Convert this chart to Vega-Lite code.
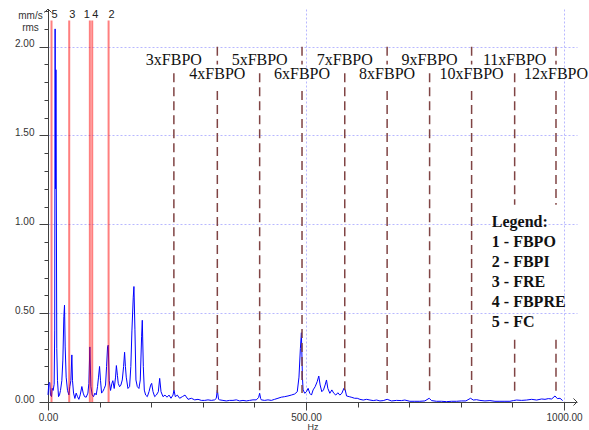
{
  "$schema": "https://vega.github.io/schema/vega-lite/v6.json",
  "width": 529,
  "height": 393,
  "autosize": {"type": "none"},
  "padding": {"left": 48, "top": 9, "right": 12, "bottom": 28},
  "background": "white",
  "config": {
    "view": {"stroke": null},
    "axis": {
      "domainColor": "#404040",
      "tickColor": "#404040",
      "labelColor": "#333333",
      "labelFont": "Liberation Sans",
      "labelFontSize": 10,
      "titleFont": "Liberation Sans",
      "titleFontSize": 10,
      "titleFontWeight": "normal",
      "titleColor": "#333333"
    }
  },
  "datasets": {
    "spectrum": [
      {"hz": 0, "amp": 0.04}, {"hz": 1.6, "amp": 0.105}, {"hz": 3.5, "amp": 0.11}, {"hz": 4.8, "amp": 0.04},
      {"hz": 6.8, "amp": 0.03}, {"hz": 8.1, "amp": 0.077}, {"hz": 10, "amp": 0.065}, {"hz": 11.9, "amp": 0.1},
      {"hz": 13, "amp": 0.4}, {"hz": 13.8, "amp": 2.1}, {"hz": 14.6, "amp": 1.2}, {"hz": 15.4, "amp": 1.87},
      {"hz": 17, "amp": 0.3}, {"hz": 18.4, "amp": 0.12}, {"hz": 20.4, "amp": 0.03}, {"hz": 22.3, "amp": 0.04},
      {"hz": 24.2, "amp": 0.065}, {"hz": 26.8, "amp": 0.12}, {"hz": 28.8, "amp": 0.236}, {"hz": 30.7, "amp": 0.48},
      {"hz": 32, "amp": 0.545}, {"hz": 33.3, "amp": 0.31}, {"hz": 35.2, "amp": 0.14}, {"hz": 37.8, "amp": 0.065},
      {"hz": 40.4, "amp": 0.04}, {"hz": 42.3, "amp": 0.087}, {"hz": 44.3, "amp": 0.12}, {"hz": 46.2, "amp": 0.265},
      {"hz": 47.5, "amp": 0.12}, {"hz": 49.5, "amp": 0.05}, {"hz": 52.1, "amp": 0.02}, {"hz": 54.6, "amp": 0.05},
      {"hz": 57.2, "amp": 0.03}, {"hz": 59.8, "amp": 0.015}, {"hz": 62.4, "amp": 0.04}, {"hz": 65.6, "amp": 0.087},
      {"hz": 68.2, "amp": 0.05}, {"hz": 70.8, "amp": 0.03}, {"hz": 74, "amp": 0.027}, {"hz": 77.3, "amp": 0.05},
      {"hz": 79.2, "amp": 0.105}, {"hz": 81.1, "amp": 0.31}, {"hz": 83.1, "amp": 0.087}, {"hz": 85.7, "amp": 0.04},
      {"hz": 88.2, "amp": 0.03}, {"hz": 90.8, "amp": 0.05}, {"hz": 93.4, "amp": 0.04}, {"hz": 96, "amp": 0.087},
      {"hz": 97.9, "amp": 0.14}, {"hz": 99.9, "amp": 0.2}, {"hz": 101.8, "amp": 0.12}, {"hz": 103.8, "amp": 0.05},
      {"hz": 106.3, "amp": 0.06}, {"hz": 109, "amp": 0.076}, {"hz": 111.5, "amp": 0.095}, {"hz": 113.5, "amp": 0.199},
      {"hz": 115.4, "amp": 0.31}, {"hz": 116.7, "amp": 0.32}, {"hz": 118.6, "amp": 0.12}, {"hz": 121.2, "amp": 0.065},
      {"hz": 123.8, "amp": 0.105}, {"hz": 125.7, "amp": 0.12}, {"hz": 128.3, "amp": 0.076}, {"hz": 130.9, "amp": 0.14},
      {"hz": 132.5, "amp": 0.205}, {"hz": 134.5, "amp": 0.15}, {"hz": 136.1, "amp": 0.105}, {"hz": 138.7, "amp": 0.086},
      {"hz": 141.2, "amp": 0.095}, {"hz": 143.9, "amp": 0.124}, {"hz": 146.5, "amp": 0.2}, {"hz": 148.4, "amp": 0.28},
      {"hz": 150, "amp": 0.2}, {"hz": 151.6, "amp": 0.14}, {"hz": 154.9, "amp": 0.076}, {"hz": 158.1, "amp": 0.087},
      {"hz": 160.5, "amp": 0.2}, {"hz": 162.6, "amp": 0.4}, {"hz": 165.2, "amp": 0.59}, {"hz": 166.5, "amp": 0.65},
      {"hz": 168.4, "amp": 0.41}, {"hz": 170.4, "amp": 0.124}, {"hz": 173, "amp": 0.087}, {"hz": 176.2, "amp": 0.076},
      {"hz": 178.8, "amp": 0.124}, {"hz": 181.4, "amp": 0.37}, {"hz": 182.7, "amp": 0.46}, {"hz": 184.7, "amp": 0.199},
      {"hz": 186.6, "amp": 0.067}, {"hz": 189.2, "amp": 0.039}, {"hz": 192.4, "amp": 0.03}, {"hz": 195.7, "amp": 0.058},
      {"hz": 198.9, "amp": 0.095}, {"hz": 200.9, "amp": 0.105}, {"hz": 203.5, "amp": 0.058}, {"hz": 206.7, "amp": 0.03},
      {"hz": 209.9, "amp": 0.039}, {"hz": 213.8, "amp": 0.058}, {"hz": 216.4, "amp": 0.133}, {"hz": 219, "amp": 0.058},
      {"hz": 222.8, "amp": 0.03}, {"hz": 226.7, "amp": 0.039}, {"hz": 230.6, "amp": 0.027}, {"hz": 234.5, "amp": 0.039},
      {"hz": 238.3, "amp": 0.021}, {"hz": 242.2, "amp": 0.039}, {"hz": 244.1, "amp": 0.067}, {"hz": 246.7, "amp": 0.03},
      {"hz": 250.6, "amp": 0.039}, {"hz": 255.1, "amp": 0.021}, {"hz": 260.3, "amp": 0.03}, {"hz": 265.5, "amp": 0.039},
      {"hz": 271.3, "amp": 0.015}, {"hz": 277.8, "amp": 0.021}, {"hz": 284.2, "amp": 0.012}, {"hz": 290.7, "amp": 0.015},
      {"hz": 297.2, "amp": 0.009}, {"hz": 303.6, "amp": 0.009}, {"hz": 310, "amp": 0.012}, {"hz": 316.5, "amp": 0.009},
      {"hz": 323, "amp": 0.012}, {"hz": 326, "amp": 0.02}, {"hz": 328.1, "amp": 0.067}, {"hz": 330.5, "amp": 0.015},
      {"hz": 332.6, "amp": 0.012}, {"hz": 339, "amp": 0.009}, {"hz": 345.5, "amp": 0.006}, {"hz": 352, "amp": 0.009},
      {"hz": 358.4, "amp": 0.009}, {"hz": 364.9, "amp": 0.012}, {"hz": 371.3, "amp": 0.006}, {"hz": 377.8, "amp": 0.009},
      {"hz": 384.3, "amp": 0.006}, {"hz": 390.7, "amp": 0.009}, {"hz": 397.2, "amp": 0.012}, {"hz": 403.6, "amp": 0.012},
      {"hz": 408, "amp": 0.025}, {"hz": 410.1, "amp": 0.049}, {"hz": 412, "amp": 0.02}, {"hz": 413.3, "amp": 0.012},
      {"hz": 419.8, "amp": 0.009}, {"hz": 426.2, "amp": 0.012}, {"hz": 432.7, "amp": 0.009}, {"hz": 439.1, "amp": 0.015},
      {"hz": 445.6, "amp": 0.021}, {"hz": 452, "amp": 0.027}, {"hz": 458.5, "amp": 0.03}, {"hz": 465, "amp": 0.034},
      {"hz": 471.4, "amp": 0.039}, {"hz": 477.9, "amp": 0.045}, {"hz": 483, "amp": 0.058}, {"hz": 486.3, "amp": 0.14},
      {"hz": 489, "amp": 0.3}, {"hz": 491, "amp": 0.39}, {"hz": 493, "amp": 0.14}, {"hz": 494.3, "amp": 0.068},
      {"hz": 497.5, "amp": 0.049}, {"hz": 500.8, "amp": 0.058}, {"hz": 504, "amp": 0.077}, {"hz": 507.2, "amp": 0.049},
      {"hz": 510.5, "amp": 0.039}, {"hz": 513.7, "amp": 0.068}, {"hz": 517.6, "amp": 0.086}, {"hz": 521.5, "amp": 0.114},
      {"hz": 524.7, "amp": 0.146}, {"hz": 527.3, "amp": 0.096}, {"hz": 530.5, "amp": 0.058}, {"hz": 533.8, "amp": 0.068},
      {"hz": 537, "amp": 0.096}, {"hz": 539.6, "amp": 0.124}, {"hz": 542.2, "amp": 0.077}, {"hz": 546.1, "amp": 0.049},
      {"hz": 550, "amp": 0.068}, {"hz": 553.8, "amp": 0.049}, {"hz": 557.7, "amp": 0.039}, {"hz": 561.6, "amp": 0.052},
      {"hz": 565.5, "amp": 0.039}, {"hz": 569.4, "amp": 0.049}, {"hz": 573.3, "amp": 0.077}, {"hz": 575.9, "amp": 0.068},
      {"hz": 578.5, "amp": 0.034}, {"hz": 583.7, "amp": 0.03}, {"hz": 588.8, "amp": 0.026}, {"hz": 594, "amp": 0.021},
      {"hz": 599.2, "amp": 0.021}, {"hz": 604.4, "amp": 0.015}, {"hz": 610.8, "amp": 0.011}, {"hz": 617.3, "amp": 0.015},
      {"hz": 623.8, "amp": 0.011}, {"hz": 630.2, "amp": 0.008}, {"hz": 636.7, "amp": 0.011}, {"hz": 643.2, "amp": 0.006},
      {"hz": 649.6, "amp": 0.008}, {"hz": 657.2, "amp": 0.015}, {"hz": 665.6, "amp": 0.006}, {"hz": 675.3, "amp": 0.009},
      {"hz": 685, "amp": 0.008}, {"hz": 691.4, "amp": 0.011}, {"hz": 701.1, "amp": 0.004}, {"hz": 710.8, "amp": 0.004},
      {"hz": 720.5, "amp": 0.004}, {"hz": 730.2, "amp": 0.006}, {"hz": 738.6, "amp": 0.021}, {"hz": 743.1, "amp": 0.008},
      {"hz": 752.8, "amp": 0.004}, {"hz": 762.5, "amp": 0.004}, {"hz": 772.2, "amp": 0.002}, {"hz": 781.9, "amp": 0.004},
      {"hz": 791.6, "amp": 0.004}, {"hz": 801.3, "amp": 0.006}, {"hz": 809.7, "amp": 0.006}, {"hz": 818.8, "amp": 0.021},
      {"hz": 824, "amp": 0.011}, {"hz": 830.4, "amp": 0.013}, {"hz": 836.9, "amp": 0.009}, {"hz": 846.6, "amp": 0.006},
      {"hz": 856.3, "amp": 0.008}, {"hz": 866, "amp": 0.004}, {"hz": 875.7, "amp": 0.004}, {"hz": 885.4, "amp": 0.004},
      {"hz": 895.1, "amp": 0.004}, {"hz": 901.6, "amp": 0.008}, {"hz": 908, "amp": 0.011}, {"hz": 917.7, "amp": 0.009},
      {"hz": 927.4, "amp": 0.011}, {"hz": 937.1, "amp": 0.015}, {"hz": 946.8, "amp": 0.011}, {"hz": 956.5, "amp": 0.017},
      {"hz": 963, "amp": 0.015}, {"hz": 969.4, "amp": 0.019}, {"hz": 975.9, "amp": 0.017}, {"hz": 982.4, "amp": 0.034},
      {"hz": 986.9, "amp": 0.019}, {"hz": 992.1, "amp": 0.021}, {"hz": 997.2, "amp": 0.008}
    ],
    "harmSegments": [
      {"n": 3, "hz": 243.9, "top": 1.85, "bottom": 0.05},
      {"n": 4, "hz": 328.1, "top": 2.0, "bottom": 1.9},
      {"n": 4, "hz": 328.1, "top": 1.75, "bottom": 0.05},
      {"n": 5, "hz": 410.1, "top": 1.85, "bottom": 0.05},
      {"n": 6, "hz": 492.2, "top": 2.0, "bottom": 1.9},
      {"n": 6, "hz": 492.2, "top": 1.75, "bottom": 0.05},
      {"n": 7, "hz": 575.0, "top": 1.85, "bottom": 0.05},
      {"n": 8, "hz": 657.1, "top": 2.0, "bottom": 1.9},
      {"n": 8, "hz": 657.1, "top": 1.75, "bottom": 0.05},
      {"n": 9, "hz": 739.4, "top": 1.85, "bottom": 0.05},
      {"n": 10, "hz": 820.8, "top": 2.0, "bottom": 1.9},
      {"n": 10, "hz": 820.8, "top": 1.75, "bottom": 0.05},
      {"n": 11, "hz": 904.2, "top": 1.85, "bottom": 1.11},
      {"n": 11, "hz": 904.2, "top": 0.35, "bottom": 0.05},
      {"n": 12, "hz": 984.3, "top": 2.0, "bottom": 1.9},
      {"n": 12, "hz": 984.3, "top": 1.75, "bottom": 1.11},
      {"n": 12, "hz": 984.3, "top": 0.35, "bottom": 0.05}
    ],
    "harmLabels": [
      {"label": "3xFBPO", "hz": 243.9, "amp": 1.899},
      {"label": "4xFBPO", "hz": 328.1, "amp": 1.816},
      {"label": "5xFBPO", "hz": 410.1, "amp": 1.899},
      {"label": "6xFBPO", "hz": 492.2, "amp": 1.816},
      {"label": "7xFBPO", "hz": 575.0, "amp": 1.899},
      {"label": "8xFBPO", "hz": 657.1, "amp": 1.816},
      {"label": "9xFBPO", "hz": 739.4, "amp": 1.899},
      {"label": "10xFBPO", "hz": 820.8, "amp": 1.816},
      {"label": "11xFBPO", "hz": 904.2, "amp": 1.899},
      {"label": "12xFBPO", "hz": 984.3, "amp": 1.816}
    ],
    "markers": [
      {"id": "5", "hz": 6.8, "side": "right"},
      {"id": "3", "hz": 41.1, "side": "right"},
      {"id": "1", "hz": 81.1, "side": "left"},
      {"id": "4", "hz": 85.7, "side": "right"},
      {"id": "2", "hz": 117.4, "side": "right"}
    ],
    "legend": [
      {"text": "Legend:", "hz": 860, "amp": 0.987},
      {"text": "1 - FBPO", "hz": 860, "amp": 0.874},
      {"text": "2 - FBPI", "hz": 860, "amp": 0.761},
      {"text": "3 - FRE", "hz": 860, "amp": 0.649},
      {"text": "4 - FBPRE", "hz": 860, "amp": 0.533},
      {"text": "5 - FC", "hz": 860, "amp": 0.42}
    ]
  },
  "layer": [
    {
      "data": {"name": "spectrum"},
      "mark": {"type": "line", "color": "#0000ff", "strokeWidth": 1, "interpolate": "linear"},
      "encoding": {
        "x": {
          "field": "hz", "type": "quantitative",
          "scale": {"domain": [0, 1025], "nice": false, "zero": false},
          "axis": {
            "values": [0, 100, 200, 300, 400, 500, 600, 700, 800, 900, 1000],
            "tickCount": 200,
            "format": ".2f",
            "labelExpr": "datum.value % 500 == 0 ? datum.label : ''",
            "labelFlush": false,
            "labelOverlap": false,
            "labelPadding": 2,
            "tickSize": {"condition": {"test": "datum.value % 500 == 0", "value": 8}, "value": 5},
            "grid": true,
            "gridColor": "#b8b8ff",
            "gridDash": [2, 2],
            "gridOpacity": {"condition": {"test": "datum.value % 500 == 0 && datum.value > 0", "value": 1}, "value": 0},
            "title": "Hz",
            "titleFontSize": 9,
            "titleY": 20,
            "titleBaseline": "top"
          }
        },
        "y": {
          "field": "amp", "type": "quantitative",
          "scale": {"domain": [0, 2.212], "nice": false},
          "axis": {
            "values": [0, 0.1, 0.2, 0.3, 0.4, 0.5, 0.6, 0.7, 0.8, 0.9, 1.0, 1.1, 1.2, 1.3, 1.4, 1.5, 1.6, 1.7, 1.8, 1.9, 2.0, 2.1, 2.2],
            "tickCount": 200,
            "format": ".2f",
            "labelExpr": "abs(datum.value*2 - round(datum.value*2)) < 0.001 ? datum.label : ''",
            "labelOverlap": false,
            "labelBaseline": "alphabetic",
            "labelPadding": 5,
            "tickSize": {"condition": {"test": "abs(datum.value*2 - round(datum.value*2)) < 0.001", "value": 9}, "value": 4},
            "grid": true,
            "gridColor": "#b8b8ff",
            "gridDash": [2, 2],
            "gridOpacity": {"condition": {"test": "abs(datum.value*2 - round(datum.value*2)) < 0.001 && datum.value > 0", "value": 1}, "value": 0},
            "title": ["mm/s", "rms"],
            "titleAngle": 0,
            "titleAlign": "center",
            "titleBaseline": "top",
            "titleX": -18,
            "titleY": 1,
            "titleLineHeight": 12
          }
        }
      }
    },
    {
      "data": {"name": "harmSegments"},
      "mark": {"type": "rule", "color": "#804444", "strokeWidth": 1.5, "strokeDash": [9, 5]},
      "encoding": {
        "x": {"field": "hz", "type": "quantitative"},
        "y": {"field": "top", "type": "quantitative"},
        "y2": {"field": "bottom"}
      }
    },
    {
      "data": {"name": "markers"},
      "mark": {"type": "rule", "color": "#ff0000", "opacity": 0.5, "strokeWidth": 2},
      "encoding": {
        "x": {"field": "hz", "type": "quantitative"},
        "y": {"datum": 0},
        "y2": {"datum": 2.147}
      }
    },
    {
      "data": {"name": "markers"},
      "transform": [{"filter": "datum.side == 'right'"}],
      "mark": {"type": "text", "font": "Liberation Sans", "fontSize": 11, "color": "#222222", "align": "left", "baseline": "alphabetic", "dx": 0},
      "encoding": {
        "x": {"field": "hz", "type": "quantitative"},
        "y": {"datum": 2.16},
        "text": {"field": "id"}
      }
    },
    {
      "data": {"name": "markers"},
      "transform": [{"filter": "datum.side == 'left'"}],
      "mark": {"type": "text", "font": "Liberation Sans", "fontSize": 11, "color": "#222222", "align": "right", "baseline": "alphabetic", "dx": 0},
      "encoding": {
        "x": {"field": "hz", "type": "quantitative"},
        "y": {"datum": 2.16},
        "text": {"field": "id"}
      }
    },
    {
      "data": {"name": "harmLabels"},
      "mark": {"type": "text", "font": "Liberation Serif", "fontSize": 16, "color": "#111111", "align": "center", "baseline": "alphabetic"},
      "encoding": {
        "x": {"field": "hz", "type": "quantitative"},
        "y": {"field": "amp", "type": "quantitative"},
        "text": {"field": "label"}
      }
    },
    {
      "data": {"name": "legend"},
      "mark": {"type": "text", "font": "Liberation Serif", "fontSize": 16, "fontWeight": "bold", "color": "#111111", "align": "left", "baseline": "alphabetic"},
      "encoding": {
        "x": {"field": "hz", "type": "quantitative"},
        "y": {"field": "amp", "type": "quantitative"},
        "text": {"field": "text"}
      }
    },
    {
      "data": {"values": [{"axis": "y"}]},
      "mark": {"type": "point", "shape": "M-1,1L0,0L1,1", "filled": false, "stroke": "#404040", "strokeWidth": 1, "size": 50, "opacity": 1},
      "encoding": {
        "x": {"datum": 0},
        "y": {"datum": 2.212}
      }
    },
    {
      "data": {"values": [{"axis": "x"}]},
      "mark": {"type": "point", "shape": "M-1,-1L0,0L-1,1", "filled": false, "stroke": "#404040", "strokeWidth": 1, "size": 50, "opacity": 1},
      "encoding": {
        "x": {"datum": 1025},
        "y": {"datum": 0}
      }
    }
  ]
}
